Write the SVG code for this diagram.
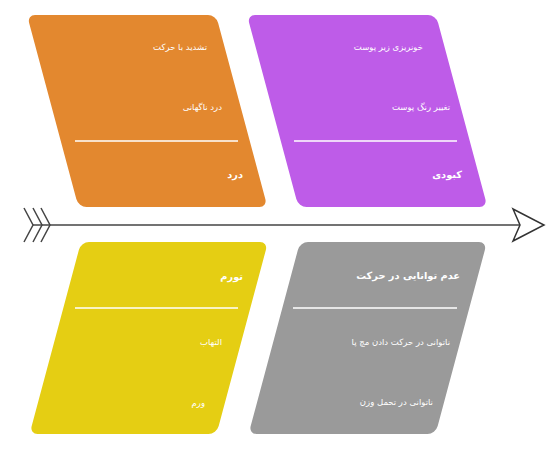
<svg xmlns="http://www.w3.org/2000/svg" width="555" height="453" viewBox="0 0 555 453">
<style>
.item{font-family:"DejaVu Sans",sans-serif;font-size:8.5px;fill:#ffffff;text-anchor:end}
.title{font-family:"DejaVu Sans",sans-serif;font-size:9.8px;font-weight:bold;fill:#ffffff;text-anchor:end}
.sep{stroke:#ffffff;stroke-width:1.5}
.spine{stroke:#444444;stroke-width:1.5;fill:none}
</style>
<rect width="555" height="453" fill="#ffffff"/>
<g id="connectors">
<line class="spine" x1="33" y1="225" x2="520" y2="225"/>
<polyline class="spine" points="24,208 33,225 24,242"/>
<polyline class="spine" points="33,208 42,225 33,242"/>
<polyline class="spine" points="41,208 50,225 41,242"/>
<polygon points="513,209 544,225 513,241 520,225" fill="#ffffff" stroke="#333333" stroke-width="1.5" stroke-linejoin="miter"/>
</g>
<g id="node-pain">
<rect x="0" y="0" width="189" height="192" rx="8" ry="8" fill="#E3882F" transform="translate(27,15) skewX(15)"/>
<text class="item" x="207" y="50">تشدید با حرکت</text>
<text class="item" x="222" y="110">درد ناگهانی</text>
<line class="sep" x1="75" y1="141" x2="238" y2="141"/>
<text class="title" x="243" y="178">درد</text>
</g>
<g id="node-bruise">
<rect x="0" y="0" width="189" height="192" rx="8" ry="8" fill="#BE5CE8" transform="translate(247,15) skewX(15)"/>
<text class="item" x="423" y="50">خونریزی زیر پوست</text>
<text class="item" x="450" y="110">تغییر رنگ پوست</text>
<line class="sep" x1="294" y1="141" x2="457" y2="141"/>
<text class="title" x="462" y="178">کبودی</text>
</g>
<g id="node-swelling">
<rect x="0" y="0" width="187" height="192" rx="8" ry="8" fill="#E5CE13" transform="translate(81,242) skewX(-15)"/>
<text class="title" x="243" y="280">تورم</text>
<line class="sep" x1="75" y1="308" x2="238" y2="308"/>
<text class="item" x="222" y="345">التهاب</text>
<text class="item" x="205" y="406">ورم</text>
</g>
<g id="node-immobility">
<rect x="0" y="0" width="187" height="192" rx="8" ry="8" fill="#9A9A9A" transform="translate(300,242) skewX(-15)"/>
<text class="title" x="460" y="279">عدم توانایی در حرکت</text>
<line class="sep" x1="293" y1="308" x2="457" y2="308"/>
<text class="item" x="450" y="345">ناتوانی در حرکت دادن مچ پا</text>
<text class="item" x="433" y="405">ناتوانی در تحمل وزن</text>
</g>
</svg>
